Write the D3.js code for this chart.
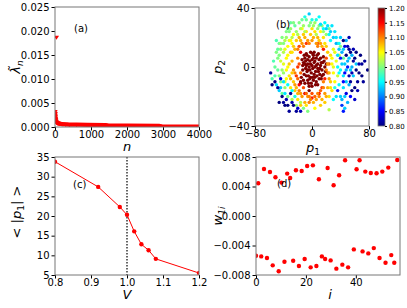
<!DOCTYPE html>
<html>
<head>
<meta charset="utf-8">
<script src="https://cdn.jsdelivr.net/npm/d3@7"></script>
<style>
body { margin: 0; background: #fff; }
text { font-family: "DejaVu Sans", sans-serif; }
</style>
</head>
<body>
<div id="chart"></div>
<script>
// (a) spectrum
var aFirstN = 40, aFirstLam = 0.0187;
var aN   = [2, 5, 10, 15, 20, 30, 45, 60, 80, 100, 130, 170, 220, 300, 400, 600, 900, 1400, 1420, 2000, 2900, 2920, 3500, 4000];
var aLam = [0.0032, 0.0028, 0.0022, 0.0018, 0.0015, 0.0012, 0.0010, 0.0009, 0.0008, 0.00075, 0.0007, 0.00065, 0.0006, 0.00055,
            0.0005, 0.00048, 0.00045, 0.00042, 0.00035, 0.0003, 0.00025, 0.00012, 0.0001, 0.00008];
var aXTicks = [0, 1000, 2000, 3000, 4000];
var aYTicks = [0, 0.005, 0.010, 0.015, 0.020, 0.025];

// (b) scatter [p1, p2, colour value]
var bPoints = [
  // dark red core
  [-12,3,1.2],[-10,6,1.2],[-8,1,1.2],[-6,5,1.2],[-4,7,1.2],[-2,2,1.2],[0,5,1.2],[2,8,1.2],[4,4,1.2],[6,6,1.2],
  [8,2,1.2],[10,5,1.2],[12,1,1.2],[14,-2,1.2],[-13,-2,1.2],[-11,-5,1.2],[-9,-1,1.2],[-7,-3,1.2],[-5,-6,1.2],[-3,-2,1.2],
  [-1,-4,1.2],[1,-1,1.2],[3,-5,1.2],[5,-3,1.2],[7,-6,1.2],[9,-3,1.2],[11,-5,1.2],[13,-8,1.2],[-6,-9,1.2],[-2,-7,1.2],
  [2,-9,1.2],[6,-10,1.2],[0,1,1.2],[4,0,1.2],[-4,0,1.2],[8,-1,1.2],[-8,-6,1.2],[10,-8,1.2],[-10,2,1.2],[15,3,1.2],
  [-14,5,1.2],[3,3,1.2],[-3,4,1.2],[1,9,1.2],[-1,-11,1.2],[7,8,1.2],[-7,8,1.2],[16,-5,1.2],[-15,-7,1.2],[5,-12,1.2],
  [-5,-11,1.2],[0,-13,1.2],[12,6,1.2],[-12,-9,1.2],[9,9,1.2],[18,0,1.2],[-2,10,1.2],[1,-7,1.2],[-6,-2,1.2],[6,1,1.2],
  [11,-1,1.2],[-9,4,1.2],[-4,-13,1.2],[-16,-10,1.2],[3,10,1.2],[-11,8,1.2],[17,4,1.2],[19,-3,1.2],[14,-6,1.2],[16,7,1.2],
  [-13,1,1.2],[-8,9,1.2],[4,-7,1.2],[20,2,1.2],[-10,-11,1.2],[8,-12,1.2],[-3,-8,1.2],[2,6,1.2],[-6,2,1.2],[13,3,1.2],
  [-4,-16,1.2],[-16,-11,1.2],
  // orange / red edge
  [-18,-12,1.15],[14,-14,1.13],[18,-8,1.14],[-16,10,1.16],[20,6,1.12],[-20,0,1.13],[10,-18,1.15],[-10,-18,1.16],
  [22,-4,1.12],[-22,-6,1.13],[16,12,1.14],[-18,14,1.12],[24,2,1.11],[0,-21,1.14],[8,16,1.12],[-8,16,1.13],
  // yellow ring
  [-30,10,1.07],[-28,4,1.08],[-26,-2,1.09],[-32,-6,1.06],[-24,12,1.08],[-22,18,1.07],[-18,20,1.08],[-14,16,1.09],
  [-10,20,1.08],[-6,18,1.09],[-2,22,1.07],[2,20,1.08],[6,16,1.09],[10,18,1.07],[14,14,1.08],[18,16,1.06],
  [22,10,1.07],[26,8,1.06],[28,2,1.05],[30,-4,1.05],[26,-10,1.07],[22,-14,1.08],[18,-18,1.09],[14,-22,1.08],
  [10,-20,1.1],[6,-22,1.09],[2,-24,1.08],[-2,-22,1.1],[-6,-20,1.09],[-10,-24,1.08],[-14,-20,1.09],[-18,-16,1.1],
  [-22,-14,1.08],[-26,-10,1.07],[-30,-14,1.06],[-34,0,1.05],[-36,6,1.05],[-20,6,1.1],[-24,-4,1.1],[-16,-4,1.11],
  [20,-2,1.1],[24,-8,1.09],[16,-10,1.1],[-12,14,1.1],[8,14,1.1],[-28,16,1.05],[30,12,1.04],[34,4,1.04],
  [32,-10,1.05],[-8,-26,1.06],[4,-28,1.05],[24,-20,1.06],[-36,-8,1.05],[-40,2,1.04],[-38,12,1.04],[36,-6,1.03],
  [38,8,1.03],[-26,22,1.05],[-14,26,1.05],[0,26,1.06],[12,24,1.05],[-20,-22,1.06],[18,-24,1.07],[-32,18,1.04],
  [28,-16,1.06],[-44,4,1.03],[24,-29,1.02],[-4,-24,1.1],[12,-26,1.07],[-16,-26,1.07],
  [-32,2,1.07],[-30,-8,1.08],[-28,10,1.06],[-26,14,1.07],[-24,-12,1.09],[-20,12,1.1],[-20,-8,1.11],[-18,2,1.12],
  [-16,18,1.08],[-12,22,1.07],[-8,24,1.06],[-4,16,1.1],[0,18,1.09],[4,24,1.06],[8,20,1.08],[12,16,1.09],
  [16,20,1.06],[20,14,1.07],[22,2,1.09],[24,-4,1.08],[26,-14,1.06],[20,-20,1.08],[16,-14,1.1],[12,-16,1.11],
  [8,-18,1.1],[4,-20,1.11],[0,-18,1.12],[-4,-20,1.1],[-8,-18,1.11],[-12,-14,1.12],[-16,-18,1.09],[-20,-18,1.08],
  [-24,-16,1.07],[-28,-4,1.07],[-34,8,1.05],[-30,18,1.05],[28,6,1.05],[30,0,1.04],[32,10,1.04],[-36,-2,1.05],
  [-38,-10,1.04],[-34,14,1.05],
  // green
  [-50,10,1.0],[-46,16,0.99],[-42,20,1.0],[-40,-4,1.01],[-48,-2,0.99],[-54,4,0.98],[-44,-10,1.0],[-36,24,1.0],
  [-30,26,1.01],[-24,28,0.99],[-18,30,1.0],[-12,28,1.01],[-8,32,0.99],[-4,28,1.0],[4,30,1.01],[8,26,1.0],
  [-52,-6,0.98],[-46,8,1.0],[-38,-14,1.01],[-34,-20,1.0],[-28,-22,1.02],[-22,-26,1.01],[-16,-24,1.02],[-12,-28,1.0],
  [40,14,1.0],[44,6,0.99],[-56,-8,0.98],[-30,30,0.99],[-6,-30,1.0],[-42,-18,0.99],[14,28,1.0],[20,22,1.01],
  [-50,18,0.98],[36,16,1.0],[-38,18,1.02],[-44,12,1.01],
  [-52,0,0.99],[-48,6,1.0],[-44,16,1.01],[-40,10,1.02],[-36,20,1.01],[-32,24,1.0],[-28,20,1.02],[-22,24,1.01],
  [-16,26,1.02],[-10,24,1.02],[-2,30,1.0],[2,28,1.01],[6,22,1.02],[10,28,1.0],[-46,-6,1.0],[-42,-2,1.01],
  [-40,16,1.0],[-34,26,0.99],[-26,30,1.0],[-20,22,1.02],[16,24,1.01],[24,26,0.99],[-14,32,0.99],[-48,12,0.99],
  // cyan / light blue
  [-4,36,0.93],[12,29,0.94],[20,26,0.93],[24,22,0.95],[30,20,0.93],[34,16,0.92],[38,12,0.93],[42,10,0.92],
  [46,2,0.93],[50,4,0.92],[54,-2,0.93],[44,-6,0.94],[40,-2,0.95],[48,-10,0.93],[26,18,0.95],[32,24,0.94],
  [18,30,0.95],[40,20,0.93],[36,0,0.95],[52,-12,0.92],[58,-6,0.93],[44,-14,0.94],[40,-20,0.93],[30,-22,0.95],
  [42,-22,0.92],[46,-28,0.93],[56,8,0.92],[62,2,0.93],[38,-12,0.95],[-40,-10,0.94],[-34,-12,0.95],[-46,-16,0.93],
  [-24,-20,0.96],[-50,-12,0.94],[48,18,0.92],[28,28,0.94],
  [16,26,0.95],[22,28,0.94],[26,24,0.93],[34,20,0.94],[38,16,0.95],[44,12,0.93],[36,8,0.94],[42,2,0.93],
  [48,-2,0.92],[52,6,0.93],[56,0,0.92],[46,-20,0.93],[50,-24,0.92],[34,-20,0.94],[38,-4,0.95],[32,-14,0.96],
  [-44,-14,0.93],[-38,-18,0.94],[-28,-16,0.95],[6,32,0.96],[10,34,0.95],[-10,34,0.96],[0,32,0.96],
  // blue / dark blue
  [44,18,0.8],[50,14,0.82],[54,10,0.8],[58,4,0.81],[62,-2,0.8],[66,2,0.82],[70,-6,0.8],[74,4,0.81],
  [78,-2,0.8],[64,-10,0.81],[56,-16,0.8],[52,-6,0.82],[48,-18,0.84],[60,-22,0.83],[44,-10,0.85],[50,0,0.86],
  [68,8,0.8],[40,6,0.86],[46,14,0.84],[58,12,0.82],[36,-16,0.86],[42,-26,0.87],[54,-20,0.85],[72,-10,0.81],
  [62,10,0.8],[52,20,0.82],
  [48,8,0.8],[54,-10,0.81],[60,-14,0.8],[66,-4,0.8],[70,2,0.81],[56,-4,0.82],[46,-4,0.85],[52,12,0.81],
  [60,6,0.8],[64,-16,0.82],[44,-30,0.86],
  [-56,-12,0.8],[-48,-14,0.81],[-42,-20,0.8],[-36,-22,0.82],[-30,-18,0.81],[-26,-26,0.8],[-20,-28,0.83],[-38,-26,0.8],
  [-44,-8,0.84],[-32,-30,0.81],[-46,-24,0.8],[-16,-30,0.82],[-58,-4,0.81],
  [-52,-10,0.8],[-40,-24,0.81],[-34,-26,0.8],[-28,-24,0.82],[-22,-30,0.81]
];
var bXTicks = [-80, 0, 80];
var bYTicks = [-40, 0, 40];
var cbTicks = [0.80, 0.85, 0.90, 0.95, 1.00, 1.05, 1.10, 1.15, 1.20];

// (c) mean |p1| against V
var cV = [0.8, 0.92, 0.98, 1.0, 1.02, 1.04, 1.06, 1.08, 1.2];
var cP = [33.8, 27.4, 22.3, 20.3, 16.1, 12.8, 11.3, 9.1, 5.5];
var cXTicks = [0.8, 0.9, 1.0, 1.1, 1.2];
var cYTicks = [5, 10, 15, 20, 25, 30, 35];

// (d) eigenvector components
var dI = [0.9, 3.2, 5.6, 7.8, 10.2, 12.5, 13.7, 16.0, 18.3, 20.5, 22.8, 25.2, 28.7, 31.1, 33.3, 35.7,
          40.3, 41.5, 43.8, 46.0, 48.3, 50.6, 53.0, 56.6,
          0, 2.1, 4.4, 6.7, 9.1, 11.4, 14.9, 17.2, 19.5, 21.9, 24.2, 26.4, 27.7, 29.9, 32.2, 34.6,
          36.9, 39.2, 42.7, 45.0, 47.2, 49.5, 51.9, 54.2, 55.4];
var dW = [0.00444, 0.00638, 0.00597, 0.00525, 0.00453, 0.00575, 0.00516, 0.0062, 0.0061, 0.00678, 0.00687, 0.00498,
          0.0065, 0.00417, 0.00552, 0.00755, 0.00633, 0.00755, 0.00602, 0.00584, 0.00579, 0.00602, 0.00656, 0.0076,
          -0.00539, -0.00548, -0.0057, -0.00669, -0.0075, -0.0062, -0.00606, -0.00678, -0.00584, -0.00696, -0.00678,
          -0.00548, -0.00584, -0.00602, -0.00714, -0.0066, -0.00696, -0.00453, -0.0048, -0.00507, -0.00435, -0.0057,
          -0.00633, -0.0053, -0.00633];
var dXTicks = [0, 20, 40];
var dYTicks = [-0.008, -0.004, 0, 0.004, 0.008];

var width = 407, height = 308;
var svg = d3.select("#chart").append("svg")
  .attr("width", width).attr("height", height);

var minus = function(s) { return s.replace("-", "\u2212"); };

// draw frame, ticks and labels for one panel
function makePanel(id, box, xDom, yDom, xTicks, yTicks, fx, fy)
{
  var x = d3.scaleLinear().domain(xDom).range([box.x0, box.x1]);
  var y = d3.scaleLinear().domain(yDom).range([box.y1, box.y0]);

  svg.append("clipPath").attr("id", "clip" + id)
    .append("rect")
    .attr("x", box.x0).attr("y", box.y0)
    .attr("width", box.x1 - box.x0).attr("height", box.y1 - box.y0);

  var gx = svg.append("g")
    .attr("transform", "translate(0," + box.y1 + ")")
    .call(d3.axisBottom(x).tickValues(xTicks).tickSize(3.5).tickPadding(0.5)
      .tickFormat(function(d) { return minus(fx(d)); }));
  var gy = svg.append("g")
    .attr("transform", "translate(" + box.x0 + ",0)")
    .call(d3.axisLeft(y).tickValues(yTicks).tickSize(3.5).tickPadding(2)
      .tickFormat(function(d) { return minus(fy(d)); }));
  [gx, gy].forEach(function(g) {
    g.select(".domain").remove();
    g.selectAll("text").attr("font-size", 10).attr("fill", "#000")
      .attr("font-family", "DejaVu Sans, sans-serif");
  });

  var plot = svg.append("g").attr("clip-path", "url(#clip" + id + ")");

  svg.append("rect")
    .attr("x", box.x0).attr("y", box.y0)
    .attr("width", box.x1 - box.x0).attr("height", box.y1 - box.y0)
    .attr("fill", "none").attr("stroke", "#777").attr("stroke-width", 1);

  return { x: x, y: y, plot: plot };
}

function mathLabel(x, y, rot, parts)
{
  var t = svg.append("text")
    .attr("transform", "translate(" + x + "," + y + ") rotate(" + rot + ")")
    .attr("text-anchor", "middle").attr("font-size", 13);
  parts.forEach(function(p) {
    var s = t.append("tspan").text(p.t);
    if (p.it) s.attr("font-style", "italic");
    if (p.sub) s.attr("font-size", 9).attr("dy", 3);
    if (p.up) s.attr("dy", -3);
  });
  return t;
}

function panelTag(x, y, s)
{
  svg.append("text").attr("x", x).attr("y", y).attr("font-size", 10).text(s);
}

// jet colormap
function jet(t)
{
  var c = function(v) { return Math.round(255 * Math.max(0, Math.min(1, v))); };
  return "rgb(" + c(1.5 - Math.abs(4 * t - 3)) + "," + c(1.5 - Math.abs(4 * t - 2)) + "," + c(1.5 - Math.abs(4 * t - 1)) + ")";
}

// ---------- (a)
var pa = makePanel("a", { x0: 55, x1: 199, y0: 7, y1: 127 }, [0, 4000], [0, 0.025],
  aXTicks, aYTicks, d3.format("d"), d3.format(".3f"));
var aData = aN.map(function(n, i) { return [n, aLam[i]]; });
var tri = "M-2.6,-1.6L2.6,-1.6L0,2.6Z";
pa.plot.append("path")
  .datum(aData)
  .attr("d", d3.line().x(function(d) { return pa.x(d[0]); }).y(function(d) { return pa.y(d[1]); }))
  .attr("fill", "none").attr("stroke", "#ff0000").attr("stroke-width", 4.2)
  .attr("stroke-linejoin", "round");
pa.plot.selectAll(".tri").data(aData.concat([[aFirstN, aFirstLam]])).enter()
  .append("path").attr("d", tri)
  .attr("transform", function(d) { return "translate(" + pa.x(d[0]) + "," + pa.y(d[1]) + ")"; })
  .attr("fill", "#ff0000");
panelTag(74, 32, "(a)");
mathLabel(20, 67, -90, [{ t: "\u03bb\u0303", it: true }, { t: "n", it: true, sub: true }]);
mathLabel(127, 151, 0, [{ t: "n", it: true }]);

// ---------- (b)
var pb = makePanel("b", { x0: 255, x1: 369, y0: 8, y1: 126 }, [-80, 80], [-40, 40],
  bXTicks, bYTicks, d3.format("d"), d3.format("d"));
var cScale = d3.scaleLinear().domain([0.8, 1.2]).range([0, 1]).clamp(true);
pb.plot.selectAll("circle").data(bPoints).enter()
  .append("circle")
  .attr("cx", function(d) { return pb.x(d[0]); })
  .attr("cy", function(d) { return pb.y(d[1]); })
  .attr("r", 1.7)
  .attr("fill", function(d) { return jet(cScale(d[2])); });
panelTag(276, 28, "(b)");
mathLabel(222, 67, -90, [{ t: "p", it: true }, { t: "2", sub: true }]);
mathLabel(313, 152, 0, [{ t: "p", it: true }, { t: "1", sub: true }]);

// colorbar
var cbY = d3.scaleLinear().domain([0.8, 1.2]).range([126, 8]);
var grad = svg.append("defs").append("linearGradient").attr("id", "jetgrad")
  .attr("x1", 0).attr("y1", 1).attr("x2", 0).attr("y2", 0);
d3.range(0, 1.0001, 0.125).forEach(function(t) {
  grad.append("stop").attr("offset", t).attr("stop-color", jet(t));
});
svg.append("rect").attr("x", 378).attr("y", 8).attr("width", 7).attr("height", 118)
  .attr("fill", "url(#jetgrad)").attr("stroke", "#777").attr("stroke-width", 0.8);
var gcb = svg.append("g").attr("transform", "translate(385,0)")
  .call(d3.axisRight(cbY).tickValues(cbTicks).tickSize(2).tickPadding(2).tickFormat(d3.format(".2f")));
gcb.select(".domain").remove();
gcb.selectAll("text").attr("font-size", 7).attr("font-family", "DejaVu Sans, sans-serif");

// ---------- (c)
var pc = makePanel("c", { x0: 55, x1: 199, y0: 157, y1: 275 }, [0.8, 1.2], [5, 35],
  cXTicks, cYTicks, d3.format(".1f"), d3.format("d"));
var cData = cV.map(function(v, i) { return [v, cP[i]]; });
pc.plot.append("line")
  .attr("x1", pc.x(1.0)).attr("x2", pc.x(1.0)).attr("y1", 157).attr("y2", 275)
  .attr("stroke", "#000").attr("stroke-width", 1.2).attr("stroke-dasharray", "1.5,1.5");
pc.plot.append("path").datum(cData)
  .attr("d", d3.line().x(function(d) { return pc.x(d[0]); }).y(function(d) { return pc.y(d[1]); }))
  .attr("fill", "none").attr("stroke", "#ff0000").attr("stroke-width", 1);
pc.plot.selectAll("circle").data(cData).enter()
  .append("circle")
  .attr("cx", function(d) { return pc.x(d[0]); })
  .attr("cy", function(d) { return pc.y(d[1]); })
  .attr("r", 2.2).attr("fill", "#ff0000");
panelTag(73, 188, "(c)");
mathLabel(21, 212, -90, [{ t: "< |" }, { t: "p", it: true }, { t: "1", sub: true }, { t: "| >", up: true }]);
mathLabel(127, 299, 0, [{ t: "V", it: true }]);

// ---------- (d)
var pd = makePanel("d", { x0: 256, x1: 400, y0: 157, y1: 275 }, [0, 57.7], [-0.008, 0.008],
  dXTicks, dYTicks, d3.format("d"), d3.format(".3f"));
pd.plot.selectAll("circle").data(dI).enter()
  .append("circle")
  .attr("cx", function(d) { return pd.x(d); })
  .attr("cy", function(d, i) { return pd.y(dW[i]); })
  .attr("r", 2.2).attr("fill", "#ff0000");
panelTag(277, 187, "(d)");
mathLabel(222, 216, -90, [{ t: "w", it: true }, { t: "1i", it: true, sub: true }]);
mathLabel(330, 299, 0, [{ t: "i", it: true }]);
</script>
</body>
</html>
